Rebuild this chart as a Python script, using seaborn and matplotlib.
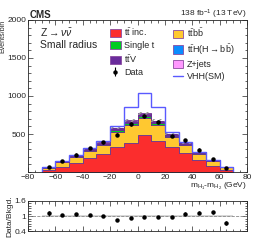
"""
Recreation of the CMS VHH (Z->nunu, small radius) mass-difference plot.
Saves out.png (258x243 px).
"""

import numpy as np
import pandas as pd
import matplotlib
matplotlib.use("Agg")
import matplotlib.pyplot as plt
from matplotlib.patches import Patch
from matplotlib.lines import Line2D
from matplotlib.ticker import MultipleLocator
import seaborn as sns

sns.set_style("ticks")
plt.rcParams["font.family"] = ["Liberation Sans", "DejaVu Sans"]
plt.rcParams["mathtext.fontset"] = "custom"
plt.rcParams["mathtext.rm"] = "Liberation Sans"
plt.rcParams["mathtext.it"] = "Liberation Sans:italic"

# bins of m_H1 - m_H2 (GeV)
bin_edges = [-70, -60, -50, -40, -30, -20, -10, 0, 10, 20, 30, 40, 50, 60, 70]
bin_centers = [-65, -55, -45, -35, -25, -15, -5, 5, 15, 25, 35, 45, 55, 65]

# background yields per bin (events/bin)
tt_inc = [30, 65, 117, 183, 235, 326, 378, 487, 409, 326, 248, 161, 83, 30]
ttbb = [27, 62, 79, 91, 122, 203, 246, 219, 210, 134, 101, 80, 59, 30]
single_t = [3, 5, 7, 10, 12, 20, 22, 25, 22, 15, 12, 8, 5, 3]
tth_bb = [1, 2, 3, 4, 6, 9, 10, 12, 10, 7, 5, 3, 2, 1]
ttv = [3, 5, 7, 10, 12, 18, 20, 22, 20, 15, 12, 8, 5, 3]
zjets = [1, 1, 2, 2, 3, 4, 4, 5, 4, 3, 2, 2, 1, 1]

# signal (scaled) drawn on top of the background stack
vhh_sm = [3, 5, 7, 10, 15, 20, 175, 265, 180, 25, 12, 8, 5, 3]

# observed data
data = [72, 146, 230, 315, 394, 493, 632, 739, 661, 480, 418, 296, 177, 49]
ratio_err = [0.10, 0.05, 0.05, 0.04, 0.04, 0.03, 0.03, 0.03, 0.03, 0.04, 0.05, 0.06, 0.07, 0.08]

processes = ["tt inc.", "ttbb", "Single t", "ttH", "ttV", "Z+jets"]
proc_values = [tt_inc, ttbb, single_t, tth_bb, ttv, zjets]
proc_colors = ["#fb2d2d", "#ffc830", "#00cc22", "#0a8cff", "#6a2c9c", "#ff99ff"]
legend_labels = {
    "tt inc.": r"$\mathrm{t\bar{t}}$ inc.",
    "ttbb": r"$\mathrm{t\bar{t}b\bar{b}}$",
    "Single t": "Single t",
    "ttH": r"$\mathrm{t\bar{t}H(H\rightarrow b\bar{b})}$",
    "ttV": r"$\mathrm{t\bar{t}V}$",
    "Z+jets": "Z+jets",
}

rows = []
for name, vals in zip(processes, proc_values):
    for c, v in zip(bin_centers, vals):
        rows.append({"x": c, "w": v, "process": name})
df = pd.DataFrame(rows)

total = np.sum(np.array(proc_values), axis=0)
data = np.array(data)
ratio = data / total

fig = plt.figure(figsize=(2.58, 2.43), dpi=100)
ax = fig.add_axes([0.109, 0.292, 0.848, 0.626])
rax = fig.add_axes([0.109, 0.049, 0.848, 0.124])

# seaborn stacks hue levels with the first level on top, so reverse the order
sns.histplot(
    data=df, x="x", weights="w", hue="process",
    hue_order=processes[::-1], palette=proc_colors[::-1],
    bins=bin_edges, multiple="stack", element="step", fill=True,
    alpha=1, linewidth=0.6, edgecolor="#6a3090", legend=False, ax=ax,
)

# background uncertainty band
widths = np.diff(bin_edges)
unc = 0.03 * total
ax.bar(bin_centers, 2 * unc, width=widths, bottom=total - unc,
       color="none", edgecolor="#999999", hatch="/////", linewidth=0)

# signal on top of background
ax.stairs(total + np.array(vhh_sm), bin_edges, color="#5a5aff", linewidth=1.0)

data_marks = ax.errorbar(bin_centers, data, yerr=np.sqrt(data), fmt="o",
                         color="black", markersize=2.2, elinewidth=0.8, capsize=0)

ax.set_xlim(-80, 80)
ax.set_ylim(0, 2000)
ax.set_yticks([500, 1000, 1500, 2000])
ax.xaxis.set_major_locator(MultipleLocator(20))
ax.xaxis.set_minor_locator(MultipleLocator(5))
ax.yaxis.set_minor_locator(MultipleLocator(100))
ax.set_xlabel(r"$\mathrm{m_{H_1}}$-$\mathrm{m_{H_2}}$ (GeV)", fontsize=6,
              loc="right", labelpad=0)
ax.set_ylabel("Events/bin", fontsize=5, loc="top", labelpad=0.5)

for a in (ax, rax):
    a.tick_params(which="both", direction="in", top=True, right=True,
                  labelsize=6, width=0.5, pad=1.5)
    a.tick_params(which="major", length=3.5)
    a.tick_params(which="minor", length=1.8)
    for s in a.spines.values():
        s.set_linewidth(0.6)

ax.text(0.055, 0.914, r"Z$\rightarrow\nu\bar{\nu}$", transform=ax.transAxes,
        fontsize=7.5, va="center")
ax.text(0.055, 0.835, "Small radius", transform=ax.transAxes,
        fontsize=7.5, va="center")
fig.text(0.116, 0.94, "CMS", fontsize=7, fontweight="bold", va="center")
fig.text(0.957, 0.94, r"138 fb$^{-1}$ (13 TeV)", fontsize=6, ha="right",
         va="center")

edge = "#8a4aa0"
handles_left = [
    Patch(facecolor=proc_colors[0], edgecolor=edge, linewidth=0.6),
    Patch(facecolor=proc_colors[2], edgecolor=edge, linewidth=0.6),
    Patch(facecolor=proc_colors[4], edgecolor=edge, linewidth=0.6),
    data_marks,
]
labels_left = [legend_labels["tt inc."], "Single t", legend_labels["ttV"], "Data"]
handles_right = [
    Patch(facecolor=proc_colors[1], edgecolor=edge, linewidth=0.6),
    Patch(facecolor=proc_colors[3], edgecolor=edge, linewidth=0.6),
    Patch(facecolor=proc_colors[5], edgecolor=edge, linewidth=0.6),
    Line2D([], [], color="#5a5aff", linewidth=1.0),
]
labels_right = [legend_labels["ttbb"], legend_labels["ttH"], "Z+jets", "VHH(SM)"]

leg_kw = dict(loc="upper left", fontsize=6.5, frameon=False, handlelength=1.2,
              handleheight=1.0, handletextpad=0.4, labelspacing=0.35,
              borderaxespad=0, borderpad=0)
leg1 = ax.legend(handles_left, labels_left, bbox_to_anchor=(0.374, 0.96), **leg_kw)
ax.add_artist(leg1)
ax.legend(handles_right, labels_right, bbox_to_anchor=(0.66, 0.96), **leg_kw)

# ratio panel
rax.bar(bin_centers, 0.08, width=widths, bottom=0.96, color="#d8d8d8",
        linewidth=0)
rax.axhline(1, color="#888888", linestyle="--", linewidth=0.6)
rax.errorbar(bin_centers, ratio, yerr=ratio_err, fmt="o", color="black",
             markersize=2.2, elinewidth=0.8, capsize=0)
rax.set_xlim(-80, 80)
rax.set_ylim(0.4, 1.6)
rax.set_yticks([0.4, 1, 1.6])
rax.set_yticklabels(["0.4", "1", "1.6"])
rax.xaxis.set_major_locator(MultipleLocator(20))
rax.xaxis.set_minor_locator(MultipleLocator(5))
rax.yaxis.set_minor_locator(MultipleLocator(0.1))
rax.set_xticklabels([])
rax.set_ylabel("Data/Bkgd.", fontsize=6, labelpad=1)
rax.set_xlabel("")

fig.savefig("out.png", dpi=100)
